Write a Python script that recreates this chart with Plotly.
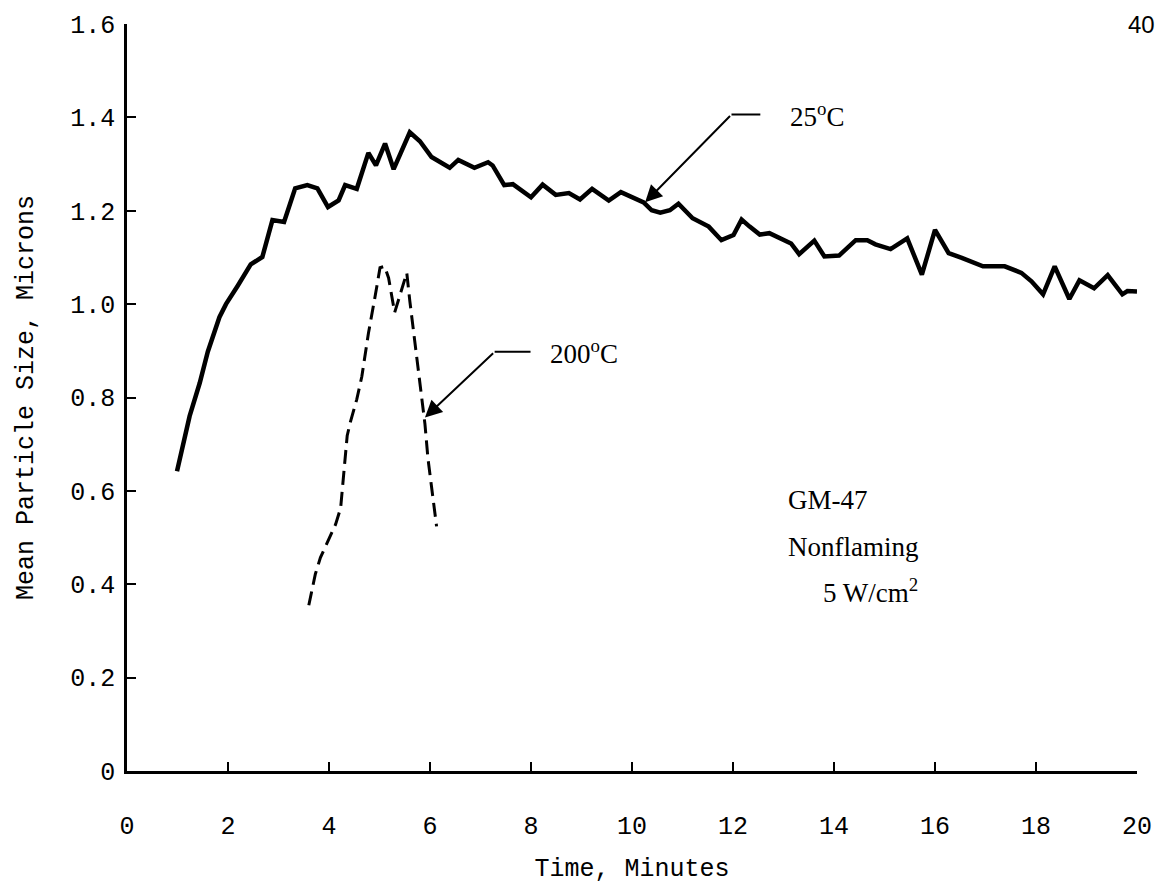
import plotly.graph_objects as go

# 25 °C series (solid)
t25 = [0.99, 1.24, 1.44, 1.60, 1.83, 1.96, 2.19, 2.45, 2.68, 2.88, 3.11, 3.33, 3.57, 3.77,
       3.98, 4.19, 4.32, 4.55, 4.78, 4.93, 5.11, 5.28, 5.60, 5.80, 6.03, 6.39, 6.56, 6.88,
       7.15, 7.24, 7.47, 7.64, 8.00, 8.23, 8.49, 8.75, 8.97, 9.21, 9.54, 9.78, 10.23, 10.39,
       10.56, 10.75, 10.92, 11.20, 11.52, 11.77, 12.01, 12.17, 12.33, 12.53, 12.72, 13.15,
       13.31, 13.61, 13.81, 14.10, 14.43, 14.66, 14.82, 15.12, 15.45, 15.58, 15.74, 16.00,
       16.27, 16.53, 16.95, 17.38, 17.71, 17.91, 18.14, 18.37, 18.66, 18.86, 19.15, 19.42,
       19.71, 19.81, 20.00]
s25 = [0.642, 0.760, 0.831, 0.898, 0.972, 1.000, 1.039, 1.085, 1.101, 1.180, 1.176, 1.248,
       1.255, 1.248, 1.208, 1.222, 1.255, 1.247, 1.324, 1.297, 1.344, 1.289, 1.368, 1.349,
       1.315, 1.292, 1.309, 1.292, 1.304, 1.297, 1.255, 1.257, 1.229, 1.256, 1.234, 1.238,
       1.224, 1.247, 1.222, 1.240, 1.218, 1.201, 1.196, 1.201, 1.215, 1.184, 1.166, 1.137,
       1.148, 1.181, 1.166, 1.149, 1.152, 1.130, 1.107, 1.136, 1.102, 1.104, 1.137, 1.137,
       1.128, 1.118, 1.141, 1.106, 1.063, 1.159, 1.109, 1.099, 1.081, 1.081, 1.067, 1.049,
       1.021, 1.081, 1.011, 1.051, 1.034, 1.062, 1.021, 1.028, 1.027]

# 200 °C series (dashed)
t200 = [3.60, 3.73, 3.83, 4.13, 4.23, 4.29, 4.36, 4.42, 4.55, 4.65, 4.78, 4.92, 5.01, 5.10,
        5.18, 5.30, 5.41, 5.54, 5.60, 5.70, 5.83, 5.90, 5.96, 6.03, 6.13]
s200 = [0.355, 0.422, 0.457, 0.528, 0.563, 0.634, 0.718, 0.746, 0.796, 0.845, 0.937, 1.021,
        1.078, 1.081, 1.056, 0.982, 1.021, 1.067, 1.007, 0.915, 0.796, 0.743, 0.669, 0.612,
        0.524]

x_ticks = [0, 2, 4, 6, 8, 10, 12, 14, 16, 18, 20]
y_ticks = [0, 0.2, 0.4, 0.6, 0.8, 1.0, 1.2, 1.4, 1.6]
y_tick_text = ["0", "0.2", "0.4", "0.6", "0.8", "1.0", "1.2", "1.4", "1.6"]

MONO = "Liberation Mono"
SERIF = "Liberation Serif"

W, H = 1164, 889
ML, MR, MT, MB = 127, 21, 16, 116
X_RANGE = [0, 20]
Y_RANGE = [0, 1.6]

fig = go.Figure()
fig.add_trace(go.Scatter(x=t25, y=s25, mode="lines", name="25°C",
                         line=dict(color="black", width=4.5)))
fig.add_trace(go.Scatter(x=t200, y=s200, mode="lines", name="200°C",
                         line=dict(color="black", width=3, dash="14px,7px")))

axis_common = dict(showgrid=False, zeroline=False, showline=True, linecolor="black",
                   linewidth=2.5, ticks="inside", ticklen=9, tickwidth=2, tickcolor="black",
                   tickfont=dict(family=MONO, size=25, color="black"), mirror=False)

fig.update_xaxes(range=X_RANGE, tickvals=x_ticks, ticktext=[str(v) for v in x_ticks],
                 ticklabelstandoff=30,
                 title=dict(text="Time, Minutes", font=dict(family=MONO, size=25, color="black"),
                            standoff=18),
                 **axis_common)
fig.update_yaxes(range=Y_RANGE, tickvals=y_ticks, ticktext=y_tick_text,
                 ticklabelstandoff=4,
                 title=dict(text="Mean Particle Size, Microns",
                            font=dict(family=MONO, size=25, color="black"), standoff=30),
                 **axis_common)

label_font = dict(family=SERIF, size=27, color="black")


def leader(label, label_pos, gap, tip, elbow):
    """Label with a short horizontal segment to the elbow, then an arrow to the curve."""
    fig.add_annotation(x=elbow[0], y=elbow[1], ax=label_pos[0], ay=label_pos[1],
                       xref="x", yref="y", axref="x", ayref="y", text=label,
                       font=label_font, showarrow=True, arrowhead=0, arrowwidth=2,
                       arrowcolor="black", standoff=0, startstandoff=gap)
    fig.add_annotation(x=tip[0], y=tip[1], ax=elbow[0], ay=elbow[1], xref="x", yref="y",
                       axref="x", ayref="y", text="", showarrow=True, arrowhead=2,
                       arrowsize=1.7, arrowwidth=2, arrowcolor="black", standoff=0,
                       startstandoff=0)


leader("25<sup>o</sup>C", (13.66, 1.406), 28, (10.26, 1.218), (11.97, 1.406))
leader("200<sup>o</sup>C", (9.05, 0.898), 18, (5.90, 0.757), (7.28, 0.898))

fig.add_annotation(x=13.05, y=0.58, text="GM-47", showarrow=False, xanchor="left",
                   yanchor="middle", font=label_font)
fig.add_annotation(x=13.05, y=0.48, text="Nonflaming", showarrow=False, xanchor="left",
                   yanchor="middle", font=label_font)
fig.add_annotation(x=13.74, y=0.385, text="5 W/cm<sup>2</sup>", showarrow=False,
                   xanchor="left", yanchor="middle", font=label_font)
fig.add_annotation(x=1.0, y=1.0, xref="paper", yref="paper", text="40", showarrow=False,
                   xanchor="right", yanchor="middle", xshift=20, yshift=0,
                   font=dict(family="Liberation Sans", size=24, color="black"))

fig.update_layout(width=W, height=H, margin=dict(l=ML, r=MR, t=MT, b=MB),
                  paper_bgcolor="white", plot_bgcolor="white", showlegend=False)

fig.write_html("out.html")
